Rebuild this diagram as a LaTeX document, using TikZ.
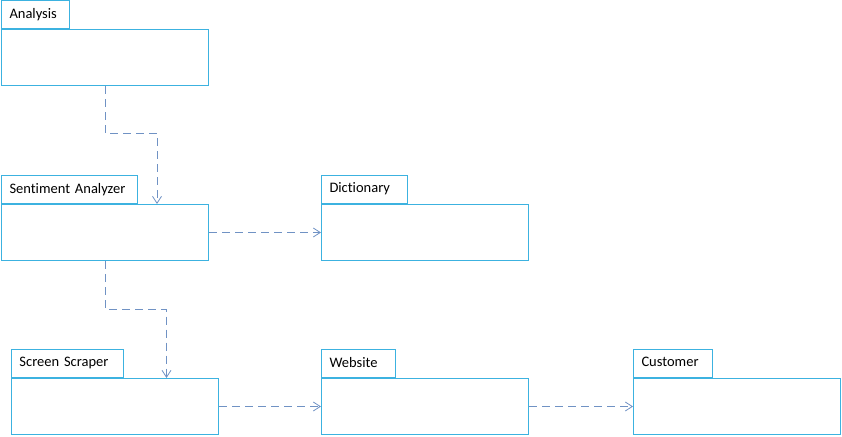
\documentclass[tikz,border=0pt]{standalone}
\usepackage{fontspec}
\setmainfont{Carlito}[Ligatures={NoCommon}]
\usetikzlibrary{arrows.meta}
\definecolor{pkgline}{RGB}{60,178,224}
\definecolor{depline}{RGB}{112,146,196}

\begin{document}
\begin{tikzpicture}[x=1pt, y=-1pt,
	every node/.style={font=\fontsize{14.5}{17}\selectfont},
	pkgbody/.style={draw=pkgline, line width=1pt, minimum width=207pt, minimum height=56pt, anchor=north west, inner sep=0pt},
	pkgtab/.style={draw=pkgline, line width=1pt, minimum height=28pt, anchor=south west, align=left, inner xsep=8pt, inner ysep=0pt, text depth=3pt},
	dep/.style={draw=depline, line width=0.8pt, dash pattern=on 8pt off 5pt, -{Straight Barb[length=7pt, width=9pt]}}]
	\useasboundingbox (0,0) rectangle (842,436);
	% packages
	\node (ana) [pkgbody] at (1,29) {};
	\node (anatab) [pkgtab, text width=52pt] at (ana.north west) {Analysis};
	\node (sa) [pkgbody] at (1,204) {};
	\node (satab) [pkgtab, text width=120pt] at (sa.north west) {Sentiment Analyzer};
	\node (dict) [pkgbody] at (321,204) {};
	\node (dicttab) [pkgtab, text width=70pt] at (dict.north west) {Dictionary};
	\node (scr) [pkgbody] at (11,378) {};
	\node (scrtab) [pkgtab, text width=96pt] at (scr.north west) {Screen Scraper};
	\node (web) [pkgbody] at (321,378) {};
	\node (webtab) [pkgtab, text width=58pt] at (web.north west) {Website};
	\node (cust) [pkgbody] at (633,378) {};
	\node (custtab) [pkgtab, text width=63pt] at (cust.north west) {Customer};
	% dependencies
	\draw[dep] (ana.south) -- ++(0,47) -| ([xshift=52pt]sa.north);
	\draw[dep] (sa.east) -- (dict.west);
	\draw[dep] (sa.south) -- ++(0,48) -| ([xshift=51.5pt]scr.north);
	\draw[dep] (scr.east) -- (web.west);
	\draw[dep] (web.east) -- (cust.west);
\end{tikzpicture}
\end{document}
